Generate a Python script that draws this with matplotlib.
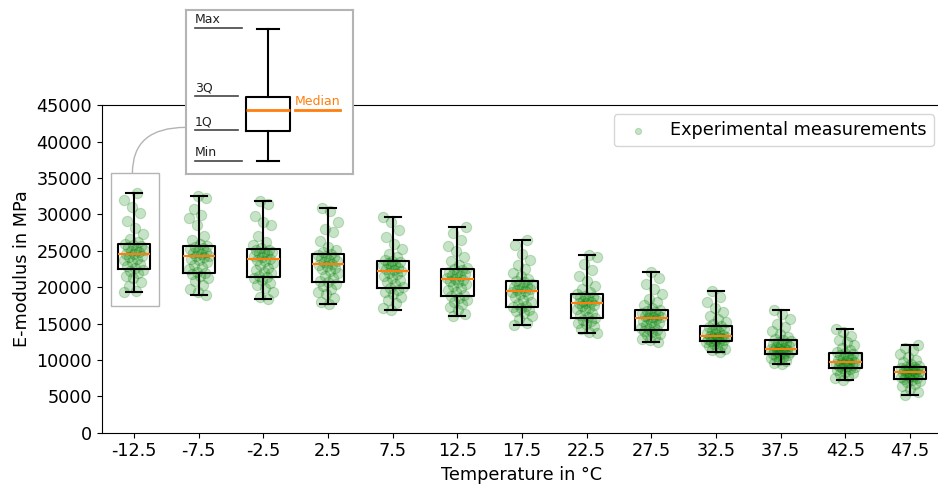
import matplotlib
matplotlib.use('Agg')
import matplotlib.pyplot as plt
import numpy as np
from matplotlib.patches import Rectangle, ConnectionPatch

# temperature classes in degC
temperatures = ['-12.5', '-7.5', '-2.5', '2.5', '7.5', '12.5', '17.5',
                '22.5', '27.5', '32.5', '37.5', '42.5', '47.5']

# box statistics (MPa)
whisker_low = [19330, 18960, 18410, 17720, 16900, 15990, 14840, 13700, 12420, 11050, 9440, 7240, 5180]
quartile_1 = [22450, 21980, 21430, 20700, 19840, 18780, 17310, 15760, 14110, 12560, 10770, 8930, 7420]
medians = [24550, 24280, 23820, 23130, 22220, 21070, 19510, 17780, 15760, 13290, 11540, 9710, 8300]
quartile_3 = [25970, 25690, 25200, 24600, 23590, 22450, 20890, 19010, 16900, 14700, 12700, 10910, 9070]
whisker_high = [32980, 32520, 31830, 30870, 29590, 28260, 26520, 24460, 22080, 19510, 16820, 14210, 12050]

# measured E-moduli per temperature class (MPa)
measurements = [
    [19330, 19500, 20100, 20700, 21200, 21600, 21900, 22200, 22400,
     22600, 22900, 23200, 23500, 23700, 23900, 24100, 24300, 24500,
     24600, 24800, 25000, 25100, 25300, 25500, 25600, 25800, 25950,
     26200, 26600, 27300, 28200, 29100, 30200, 31000, 32000, 32980],
    [18960, 19300, 19800, 20300, 20800, 21200, 21500, 21800, 21950,
     22100, 22500, 22800, 23100, 23400, 23700, 23900, 24100, 24250,
     24350, 24500, 24700, 24900, 25000, 25200, 25350, 25500, 25650,
     25900, 26500, 27000, 28500, 29500, 29900, 30800, 32200, 32520],
    [18410, 18700, 19300, 19900, 20300, 20600, 21000, 21200, 21400,
     21600, 21900, 22100, 22400, 22700, 23000, 23300, 23600, 23800,
     23900, 24100, 24300, 24500, 24700, 24800, 24900, 25050, 25180,
     25400, 25800, 26200, 27000, 28600, 28900, 29800, 31500, 31830],
    [17720, 17900, 18500, 19000, 19400, 19800, 20100, 20400, 20650,
     20900, 21200, 21500, 21900, 22200, 22500, 22700, 22900, 23100,
     23200, 23400, 23600, 23800, 23950, 24100, 24250, 24400, 24580,
     24800, 25100, 25500, 26300, 27600, 28000, 29000, 30500, 30870],
    [16900, 17200, 17800, 18300, 18700, 19000, 19300, 19600, 19820,
     20000, 20400, 20700, 21000, 21300, 21600, 21800, 22000, 22200,
     22300, 22500, 22700, 22850, 23000, 23150, 23300, 23450, 23580,
     23800, 24100, 24600, 25200, 25900, 26900, 27800, 29000, 29590],
    [15990, 16300, 16900, 17300, 17700, 18000, 18300, 18550, 18760,
     18900, 19300, 19600, 19900, 20200, 20500, 20700, 20900, 21050,
     21150, 21300, 21500, 21700, 21850, 22000, 22150, 22300, 22440,
     22700, 23000, 23600, 24200, 25000, 25700, 26500, 27500, 28260],
    [14840, 15100, 15600, 16000, 16400, 16700, 16900, 17100, 17300,
     17450, 17700, 18000, 18300, 18600, 18900, 19100, 19300, 19500,
     19600, 19750, 19900, 20050, 20200, 20350, 20500, 20700, 20880,
     21100, 21500, 22000, 22500, 23100, 23800, 24600, 25800, 26520],
    [13700, 13900, 14300, 14600, 14900, 15100, 15300, 15550, 15750,
     15900, 16200, 16500, 16800, 17000, 17200, 17400, 17600, 17770,
     17850, 18000, 18150, 18300, 18450, 18600, 18700, 18850, 19000,
     19300, 19700, 20200, 20900, 21600, 22300, 23200, 24100, 24460],
    [12420, 12700, 12900, 13200, 13400, 13600, 13800, 13950, 14100,
     14250, 14450, 14650, 14850, 15050, 15250, 15400, 15600, 15750,
     15850, 15950, 16100, 16200, 16350, 16500, 16600, 16750, 16890,
     17100, 17500, 17900, 18400, 19000, 19700, 20400, 21300, 22080],
    [11050, 11300, 11500, 11700, 11900, 12100, 12250, 12400, 12550,
     12600, 12700, 12800, 12900, 12980, 13050, 13130, 13200, 13280,
     13400, 13550, 13700, 13850, 14000, 14200, 14350, 14500, 14690,
     14900, 15200, 15600, 16100, 16600, 17200, 17900, 18700, 19510],
    [9440, 9600, 9800, 10000, 10200, 10350, 10500, 10650, 10760,
     10850, 10950, 11050, 11150, 11250, 11330, 11400, 11470, 11530,
     11650, 11800, 11950, 12050, 12200, 12300, 12450, 12550, 12690,
     12900, 13200, 13600, 14000, 14500, 15000, 15600, 16300, 16820],
    [7240, 7500, 7800, 8000, 8200, 8400, 8600, 8780, 8920,
     9000, 9100, 9200, 9300, 9380, 9450, 9530, 9620, 9700,
     9800, 9950, 10100, 10250, 10400, 10550, 10650, 10780, 10900,
     11100, 11400, 11700, 12000, 12400, 12800, 13300, 13800, 14210],
    [5180, 5600, 6000, 6400, 6700, 6950, 7100, 7250, 7410,
     7500, 7600, 7700, 7800, 7900, 8000, 8100, 8200, 8290,
     8380, 8450, 8550, 8650, 8750, 8850, 8920, 9000, 9060,
     9200, 9400, 9700, 10000, 10400, 10800, 11300, 11700, 12050],
]

FS = 12.7
GRAY = '#b4b4b4'

fig = plt.figure(figsize=(9.38, 4.84), dpi=100)
ax = fig.add_axes([101.7 / 938, 51.3 / 484, 840.7 / 938, 327.4 / 484])

positions = np.arange(1, len(temperatures) + 1)
stats = []
for i in range(len(temperatures)):
    stats.append({'whislo': whisker_low[i], 'q1': quartile_1[i], 'med': medians[i],
                  'q3': quartile_3[i], 'whishi': whisker_high[i], 'fliers': []})

box_style = dict(color='black', linewidth=1.5)
ax.bxp(stats, positions=positions, widths=0.5, boxprops=box_style, whiskerprops=box_style,
       capprops=box_style, medianprops=dict(color='#ff7f0e', linewidth=1.5), zorder=3)

# fixed horizontal spread (golden ratio steps) so points don't sit on one line
for i, vals in enumerate(measurements):
    n = len(vals)
    offs = (((np.arange(n) + 3 * i) * 0.618034) % 1 - 0.5) * 0.32
    ax.scatter(positions[i] + offs, vals, s=55, color='green', alpha=0.22, edgecolors='green',
               linewidths=0.8, zorder=2, label='Experimental measurements' if i == 0 else None)

ax.set_xlim(0.5, len(temperatures) + 0.5)
ax.set_ylim(0, 45000)
ax.set_yticks(np.arange(0, 45001, 5000))
ax.set_xticks(positions)
ax.set_xticklabels(temperatures)
ax.tick_params(labelsize=FS)
ax.set_xlabel('Temperature in °C', fontsize=FS)
ax.set_ylabel('E-modulus in MPa', fontsize=FS)
ax.legend(loc='upper right', fontsize=FS, markerscale=0.6)

# zoom frame around the first box
ax.add_patch(Rectangle((0.64, 17400), 0.74, 18300, fill=False, edgecolor=GRAY, linewidth=1, zorder=4))

# inset explaining the box plot
ins = fig.add_axes([185.7 / 938, 310.3 / 484, 167 / 938, 163.7 / 484])
for sp in ins.spines.values():
    sp.set_color(GRAY)
    sp.set_linewidth(1.5)
ins.bxp([{'whislo': 12.7, 'q1': 42.7, 'med': 64, 'q3': 77, 'whishi': 145, 'fliers': []}],
        positions=[82], widths=43.7, boxprops=box_style, whiskerprops=box_style,
        capprops=box_style, medianprops=dict(color='#ff7f0e', linewidth=2))
ins.set_xlim(0, 167)
ins.set_ylim(0, 163.7)
ins.set_xticks([])
ins.set_yticks([])
for txt, yl, xr in [('Max', 146, 56), ('3Q', 77.7, 52), ('1Q', 44, 52), ('Min', 12.7, 56)]:
    ins.plot([9.3, xr], [yl, yl], color='#444444', linewidth=1.2)
    ins.text(9.3, yl + 1.5, txt, fontsize=9, color='#222222', va='bottom', ha='left')
ins.plot([109.3, 154.3], [64, 64], color='#ff7f0e', linewidth=2)
ins.text(109.3, 66, 'Median', fontsize=9, color='#ff7f0e', va='bottom', ha='left')

con = ConnectionPatch(xyA=(0.975, 35700), coordsA=ax.transData,
                      xyB=(0, 0.283), coordsB=ins.transAxes,
                      connectionstyle='angle3,angleA=90,angleB=0',
                      color=GRAY, linewidth=1)
fig.add_artist(con)

fig.savefig('out.png', dpi=100)
